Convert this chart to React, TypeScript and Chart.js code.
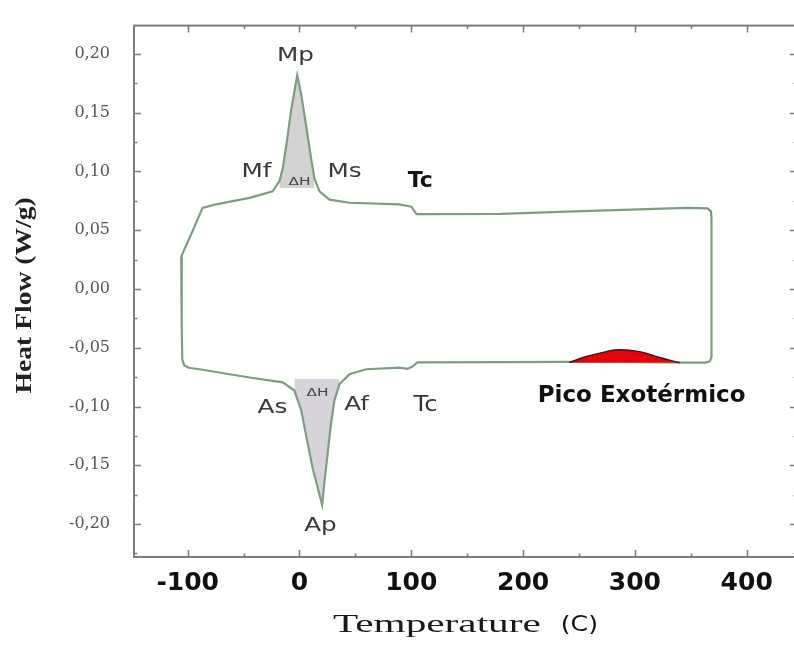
import React, { useEffect, useRef } from 'react';
import { Chart, registerables } from 'chart.js';

Chart.register(...registerables);

// ---- data ----
// heating run (lower branch), left to right
const heatingT = [-105.8, -105.3, -104.8, -103, -99, -89.4, -44.7, -14.9, -4.5, 1.5, 6, 11.9, 17.9, 20.3, 22.4, 25.3, 28.3, 31.3, 35.8, 44.7, 59.6, 89.4, 96.6, 101, 105.5, 180, 240, 300, 345, 363, 367, 368.5];
const heatingQ = [0.0275, -0.03, -0.06, -0.065, -0.067, -0.0683, -0.0753, -0.0794, -0.0864, -0.103, -0.125, -0.153, -0.175, -0.1836, -0.164, -0.139, -0.114, -0.0947, -0.081, -0.0725, -0.0683, -0.067, -0.068, -0.066, -0.0625, -0.0622, -0.062, -0.0622, -0.0626, -0.0627, -0.0615, -0.058];
// cooling run (upper branch), right to left
const coolingT = [368.5, 368, 365, 346, 289, 239, 180, 110, 104.7, 100, 89.4, 44.7, 26.8, 17.9, 13.4, 10.4, 6, 1.5, -2, -4.5, -7.4, -11.3, -15, -17.9, -24, -44.7, -74.5, -86.7, -95.4, -105.8];
const coolingQ = [0.06, 0.066, 0.0685, 0.069, 0.0672, 0.0658, 0.0638, 0.0636, 0.0636, 0.07, 0.072, 0.0733, 0.076, 0.083, 0.094, 0.111, 0.1386, 0.166, 0.1817, 0.168, 0.1525, 0.125, 0.1025, 0.0917, 0.083, 0.0775, 0.072, 0.069, 0.0497, 0.0275];
// exothermic peak
const exoT = [241.5, 256.7, 274.6, 286.2, 304, 322, 340];
const exoQ = [-0.0625, -0.0575, -0.0533, -0.0517, -0.0533, -0.0583, -0.0628];
// shaded enthalpy areas: temperature ranges and baselines
const coolPeakRange = [-18, 14];
const coolPeakBase = 0.0858;
const heatPeakRange = [-5, 36];
const heatPeakBase = -0.0767;

// axis ranges / ticks
const xMin = -148;
const xMax = 445;
const xStep = 50;
const xLabelStep = 100;
const yMin = -0.228;
const yMax = 0.224;
const yStep = 0.025;
const yLabelStep = 0.05;

// annotations
const annotText = ['Mp', 'Mf', 'Ms', 'ΔH', 'Tc', 'As', 'Af', 'ΔH', 'Ap', 'Tc', 'Pico Exotérmico'];
const annotT = [-3.6, -38.5, 40.3, 0, 108, -24.2, 51, 16.1, 18.8, 112.7, 306];
const annotQ = [0.198, 0.099, 0.099, 0.091, 0.092, -0.101, -0.099, -0.0883, -0.2017, -0.099, -0.091];
const annotStyle = ['phase', 'phase', 'phase', 'dh', 'tcBold', 'phase', 'phase', 'dh', 'phase', 'tc', 'exo'];

const styles: Record<string, { font: string; color: string; sx: number }> = {
  phase: { font: '19px "DejaVu Sans"', color: '#3a3a3a', sx: 1.3 },
  dh: { font: '11px "DejaVu Sans"', color: '#444', sx: 1.4 },
  tcBold: { font: 'bold 22px "DejaVu Sans"', color: '#151515', sx: 1.0 },
  tc: { font: '22px "DejaVu Sans"', color: '#333', sx: 1.1 },
  exo: { font: 'bold 23px "DejaVu Sans"', color: '#111', sx: 1.0 },
};

const isMult = (v: number, s: number) => Math.abs(v / s - Math.round(v / s)) < 1e-6;

function stepTicks(min: number, max: number, step: number) {
  const out: { value: number }[] = [];
  for (let k = Math.ceil(min / step - 1e-9); k <= Math.floor(max / step + 1e-9); k++) {
    out.push({ value: Math.round(k * step * 1e6) / 1e6 });
  }
  return out;
}

function drawText(ctx: CanvasRenderingContext2D, text: string, px: number, py: number, font: string, color: string, sx: number, align: CanvasTextAlign = 'center', baseline: CanvasTextBaseline = 'middle') {
  ctx.save();
  ctx.font = font;
  ctx.fillStyle = color;
  ctx.textAlign = align;
  ctx.textBaseline = baseline;
  ctx.translate(px, py);
  ctx.scale(sx, 1);
  ctx.fillText(text, 0, 0);
  ctx.restore();
}

const decorPlugin = {
  id: 'decor',
  afterDraw(chart: any) {
    const { ctx, chartArea: a, scales } = chart;
    const xs = scales.x;
    const ys = scales.y;
    ctx.save();
    // frame
    ctx.strokeStyle = '#7c7c7c';
    ctx.lineWidth = 2;
    ctx.strokeRect(a.left, a.top, a.right - a.left, a.bottom - a.top);
    // inward ticks
    ctx.lineWidth = 1.6;
    ctx.beginPath();
    xs.ticks.forEach((t: any) => {
      const v = t.value;
      const L = isMult(v, xLabelStep) ? 7 : 3.5;
      const px = Math.round(xs.getPixelForValue(v)) + 0.5;
      ctx.moveTo(px, a.bottom);
      ctx.lineTo(px, a.bottom - L);
      ctx.moveTo(px, a.top);
      ctx.lineTo(px, a.top + L);
    });
    ys.ticks.forEach((t: any) => {
      const v = t.value;
      const L = isMult(v, yLabelStep) ? 7 : 3.5;
      const py = Math.round(ys.getPixelForValue(v)) + 0.5;
      ctx.moveTo(a.left, py);
      ctx.lineTo(a.left + L, py);
      ctx.moveTo(a.right, py);
      ctx.lineTo(a.right - L, py);
    });
    ctx.stroke();
    ctx.restore();

    // annotations
    annotText.forEach((txt, i) => {
      const st = styles[annotStyle[i]];
      drawText(ctx, txt, xs.getPixelForValue(annotT[i]), ys.getPixelForValue(annotQ[i]), st.font, st.color, st.sx);
    });

    // x axis title: "Temperature (C)"
    const cx = (a.left + a.right) / 2;
    const by = a.bottom + 75;
    ctx.save();
    const fT = '25px "Liberation Serif"';
    const fC = '21px "DejaVu Sans"';
    const sxT = 1.65;
    const sxC = 1.2;
    ctx.font = fT;
    const wT = ctx.measureText('Temperature').width * sxT;
    ctx.font = fC;
    const wC = ctx.measureText('(C)').width * sxC;
    const gap = 20;
    const start = cx - (wT + gap + wC) / 2;
    ctx.restore();
    drawText(ctx, 'Temperature', start, by, fT, '#1a1a1a', sxT, 'left', 'alphabetic');
    drawText(ctx, '(C)', start + wT + gap, by - 1, fC, '#111', sxC, 'left', 'alphabetic');

    // y axis title
    ctx.save();
    ctx.translate(a.left - 109, (a.top + a.bottom) / 2 + 4);
    ctx.rotate(-Math.PI / 2);
    ctx.scale(1.15, 1);
    ctx.font = 'bold 24px "Liberation Serif"';
    ctx.fillStyle = '#222';
    ctx.textAlign = 'center';
    ctx.textBaseline = 'middle';
    ctx.fillText('Heat Flow (W/g)', 0, 0);
    ctx.restore();
  },
};

export default function App() {
  const ref = useRef<HTMLCanvasElement | null>(null);

  useEffect(() => {
    if (!ref.current) return;
    const loop = [
      ...heatingT.map((t, i) => ({ x: t, y: heatingQ[i] })),
      ...coolingT.map((t, i) => ({ x: t, y: coolingQ[i] })),
    ];
    const coolPeak = coolingT
      .map((t, i) => ({ x: t, y: coolingQ[i] }))
      .filter((p) => p.x >= coolPeakRange[0] && p.x <= coolPeakRange[1])
      .sort((p, q) => p.x - q.x);
    const heatPeak = heatingT
      .map((t, i) => ({ x: t, y: heatingQ[i] }))
      .filter((p) => p.x >= heatPeakRange[0] && p.x <= heatPeakRange[1])
      .sort((p, q) => p.x - q.x);
    const exo = exoT.map((t, i) => ({ x: t, y: exoQ[i] }));

    const chart = new Chart(ref.current, {
      type: 'line',
      data: {
        datasets: [
          {
            data: exo,
            borderColor: '#4a1010',
            borderWidth: 1.5,
            backgroundColor: '#e8000c',
            fill: { value: exoQ[0] },
            pointRadius: 0,
            tension: 0.4,
          },
          {
            data: loop,
            borderColor: '#7f9c81',
            borderWidth: 2.2,
            fill: false,
            pointRadius: 0,
            tension: 0,
          },
          {
            data: coolPeak,
            borderWidth: 0,
            borderColor: 'rgba(0,0,0,0)',
            backgroundColor: '#d2d2d2',
            fill: { value: coolPeakBase },
            pointRadius: 0,
          },
          {
            data: heatPeak,
            borderWidth: 0,
            borderColor: 'rgba(0,0,0,0)',
            backgroundColor: '#d6d3da',
            fill: { value: heatPeakBase },
            pointRadius: 0,
          },
        ],
      },
      options: {
        responsive: false,
        animation: false,
        devicePixelRatio: 1,
        parsing: false as any,
        layout: { padding: { top: 14, right: 3, left: 0, bottom: 0 } },
        plugins: { legend: { display: false }, tooltip: { enabled: false } },
        scales: {
          x: {
            type: 'linear',
            min: xMin,
            max: xMax,
            grid: { display: false },
            border: { display: false },
            afterBuildTicks: (s: any) => {
              s.ticks = stepTicks(xMin, xMax, xStep);
            },
            afterFit: (s: any) => {
              s.height = 98;
            },
            ticks: {
              autoSkip: false,
              maxRotation: 0,
              padding: 3,
              color: '#111',
              font: { family: 'DejaVu Sans', size: 25, weight: 'bold' },
              callback: (v: any) => (isMult(Number(v), xLabelStep) ? String(Math.round(Number(v))) : ''),
            },
          },
          y: {
            type: 'linear',
            min: yMin,
            max: yMax,
            grid: { display: false },
            border: { display: false },
            afterBuildTicks: (s: any) => {
              s.ticks = stepTicks(yMin, yMax, yStep);
            },
            afterFit: (s: any) => {
              s.width = 134;
            },
            ticks: {
              autoSkip: false,
              padding: 16,
              color: '#555',
              font: { family: 'DejaVu Serif', size: 16 },
              callback: (v: any) => {
                let n = Number(v);
                if (!isMult(n, yLabelStep)) return '';
                if (Math.abs(n) < 1e-9) n = 0;
                return n.toFixed(2).replace('.', ',');
              },
            },
          },
        },
      },
      plugins: [decorPlugin],
    });
    return () => chart.destroy();
  }, []);

  return (
    <div style={{ position: 'fixed', left: 0, top: 0, width: 794, height: 655, overflow: 'hidden', background: '#fff' }}>
      <canvas ref={ref} width={800} height={655} style={{ display: 'block' }} />
    </div>
  );
}
